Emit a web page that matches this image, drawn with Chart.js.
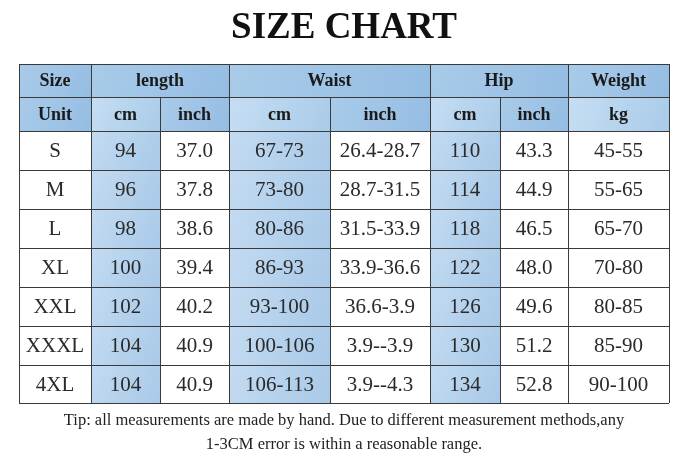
<!DOCTYPE html>
<html><head><meta charset="utf-8">
<script src="https://cdn.jsdelivr.net/npm/chart.js@4/dist/chart.umd.min.js"></script>
<style>html,body{margin:0;padding:0;background:#fff}#c{display:block}</style>
</head><body>
<div style="width:686px;height:460px"><canvas id="c"></canvas></div>
<script>
const title = "SIZE CHART";
const groupHeaders = [["Size",0,1],["length",1,3],["Waist",3,5],["Hip",5,7],["Weight",7,8]];
const unitHeaders = ["Unit","cm","inch","cm","inch","cm","inch","kg"];
const sizes = ["S","M","L","XL","XXL","XXXL","4XL"];
const lengthCm = ["94","96","98","100","102","104","104"];
const lengthInch = ["37.0","37.8","38.6","39.4","40.2","40.9","40.9"];
const waistCm = ["67-73","73-80","80-86","86-93","93-100","100-106","106-113"];
const waistInch = ["26.4-28.7","28.7-31.5","31.5-33.9","33.9-36.6","36.6-3.9","3.9--3.9","3.9--4.3"];
const hipCm = ["110","114","118","122","126","130","134"];
const hipInch = ["43.3","44.9","46.5","48.0","49.6","51.2","52.8"];
const weightKg = ["45-55","55-65","65-70","70-80","80-85","85-90","90-100"];
const tipLines = ["Tip: all measurements are made by hand. Due to different measurement methods,any","1-3CM error is within a reasonable range."];

const colEdges = [19,91,160,229,330,430,500,568,669];
const rowEdges = [64,97,131,170,209,248,287,326,365,403];
const columns = [sizes,lengthCm,lengthInch,waistCm,waistInch,hipCm,hipInch,weightKg];
const blueCols = [1,3,5];

const tablePlugin = {
  id:'table',
  afterDraw(chart){
    const ctx=chart.ctx, X=chart.scales.x, Y=chart.scales.y;
    const px=v=>X.getPixelForValue(v), py=v=>Y.getPixelForValue(v);
    const serif='"Liberation Serif","Times New Roman",serif';
    function cell(c0,c1,r0,r1,fill,text,font,color){
      const x0=px(colEdges[c0]),x1=px(colEdges[c1]),y0=py(rowEdges[r0]),y1=py(rowEdges[r1]);
      if(fill){
        const g=ctx.createLinearGradient(x0,y0,x1,y1);
        g.addColorStop(0,fill[0]);g.addColorStop(1,fill[1]);
        ctx.fillStyle=g;ctx.fillRect(x0,y0,x1-x0,y1-y0);
      }
      ctx.fillStyle=color||'#222';ctx.font=font;ctx.textAlign='center';ctx.textBaseline='middle';
      ctx.fillText(text,(x0+x1)/2,(y0+y1)/2+1);
    }
    ctx.save();
    const dark=['#a9cbe9','#95bde3'], light=['#c6def3','#a9cbe9'], body=['#c3dbf1','#a8c9e8'];
    const hb='bold 18px '+serif, bf='21px '+serif;
    groupHeaders.forEach(([t,a,b])=>cell(a,b,0,1,dark,t,hb,'#1a1a1a'));
    unitHeaders.forEach((t,i)=>cell(i,i+1,1,2,(i===0||t==='inch')?dark:light,t,hb,'#1a1a1a'));
    columns.forEach((col,ci)=>col.forEach((v,ri)=>cell(ci,ci+1,ri+2,ri+3,blueCols.includes(ci)?body:null,v,bf,'#2a2a2a')));
    ctx.strokeStyle='#3a3a3a';ctx.lineWidth=1;ctx.beginPath();
    rowEdges.forEach(r=>{const y=Math.round(py(r))+0.5;ctx.moveTo(px(colEdges[0]),y);ctx.lineTo(px(colEdges[8]),y);});
    colEdges.forEach((c,i)=>{const x=Math.round(px(c))+0.5;
      const spanTop=(i===2||i===4||i===6)?rowEdges[1]:rowEdges[0];
      ctx.moveTo(x,py(spanTop));ctx.lineTo(x,py(rowEdges[9]));});
    ctx.stroke();
    ctx.fillStyle='#111';ctx.textAlign='center';ctx.textBaseline='middle';
    ctx.font='bold 37px '+serif;ctx.fillText(title,px(344),py(28));
    ctx.font='16.5px '+serif;ctx.fillStyle='#222';
    ctx.fillText(tipLines[0],px(344),py(421));ctx.fillText(tipLines[1],px(344),py(445));
    ctx.restore();
  }
};
new Chart(document.getElementById('c'),{
  type:'scatter',
  data:{datasets:[{data:[],pointRadius:0}]},
  options:{responsive:true,maintainAspectRatio:false,animation:false,
    layout:{padding:0},
    plugins:{legend:{display:false},tooltip:{enabled:false}},
    scales:{x:{type:'linear',min:0,max:686,display:false},
            y:{type:'linear',min:0,max:460,reverse:true,display:false}}},
  plugins:[tablePlugin]
});
</script>
</body></html>
